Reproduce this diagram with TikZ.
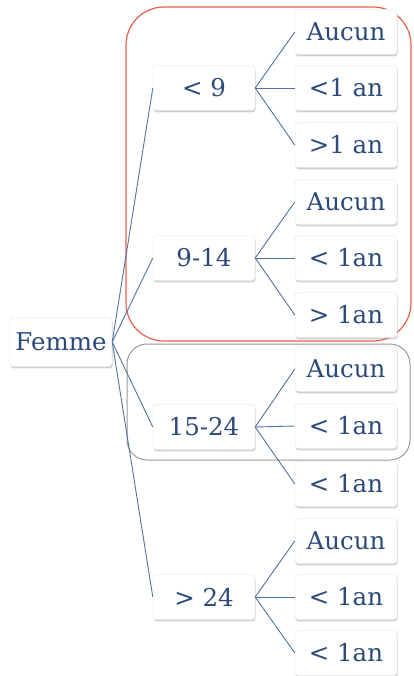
\documentclass[tikz,border=0pt]{standalone}
\usepackage{fontspec}
\setmainfont{DejaVu Serif}
\usetikzlibrary{shadows}
\definecolor{txtblue}{HTML}{2B4A7A}
\definecolor{lineblue}{HTML}{4F73A0}
\definecolor{redframe}{HTML}{E8604C}
\definecolor{grayframe}{HTML}{9A9A9A}
\begin{document}
\begin{tikzpicture}[x=1pt,y=-1pt,
  box/.style={draw=gray!25, fill=white, rounded corners=3pt, minimum width=102pt,
    minimum height=45pt, inner sep=0pt, text=txtblue,
    font=\fontsize{24.5}{29}\selectfont,
    drop shadow={shadow xshift=0.6pt, shadow yshift=-1.8pt, opacity=0.45, fill=gray!80}},
  conn/.style={draw=lineblue, line width=0.9pt}]
\useasboundingbox (0,0) rectangle (413,676);
\draw[redframe, line width=1.2pt, rounded corners=38pt] (126,7) rectangle (411,341);
\draw[grayframe, line width=1pt, rounded corners=20pt] (127,344) rectangle (410,460);
\node[box, minimum height=49pt] (femme) at (61,342) {Femme};
\node[box] (m1) at (204,88) {< 9};
\node[box] (m2) at (204,258) {9-14};
\node[box] (m3) at (204,427) {15-24};
\node[box] (m4) at (204,597) {> 24};
\node[box] (a1) at (346,32) {Aucun};
\node[box] (a2) at (346,88) {<1 an};
\node[box] (a3) at (346,145) {>1 an};
\node[box] (b1) at (346,202) {Aucun};
\node[box] (b2) at (346,258) {< 1an};
\node[box] (b3) at (346,315) {> 1an};
\node[box] (c1) at (346,369) {Aucun};
\node[box] (c2) at (346,426) {< 1an};
\node[box] (c3) at (346,484) {< 1an};
\node[box] (d1) at (346,541) {Aucun};
\node[box] (d2) at (346,597) {< 1an};
\node[box] (d3) at (346,653) {< 1an};
\foreach \m in {m1,m2,m3,m4} \draw[conn] (femme.east) -- (\m.west);
\foreach \l in {a1,a2,a3} \draw[conn] (m1.east) -- (\l.west);
\foreach \l in {b1,b2,b3} \draw[conn] (m2.east) -- (\l.west);
\foreach \l in {c1,c2,c3} \draw[conn] (m3.east) -- (\l.west);
\foreach \l in {d1,d2,d3} \draw[conn] (m4.east) -- (\l.west);
\end{tikzpicture}
\end{document}
